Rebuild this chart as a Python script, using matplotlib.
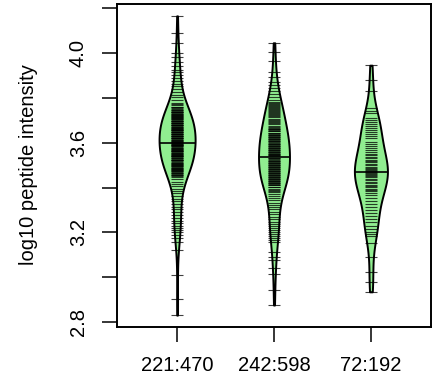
import numpy as np
import matplotlib
matplotlib.use("Agg")
import matplotlib.pyplot as plt

plt.rcParams["font.family"] = ["Liberation Sans", "DejaVu Sans"]

# group labels under each bean
GROUPS = ["221:470", "242:598", "72:192"]

# log10 peptide intensities
BEAN_1 = [4.166, 4.088, 4.043, 3.999, 3.983, 3.961, 3.943, 3.924, 3.915, 3.902,
          3.888, 3.875, 3.862, 3.853, 3.839, 3.826, 3.813, 3.804, 3.790, 3.777,
          3.772, 3.768, 3.761, 3.759, 3.755, 3.750, 3.746, 3.744, 3.741, 3.739,
          3.737, 3.735, 3.732, 3.730, 3.728, 3.726, 3.723, 3.721, 3.719, 3.717,
          3.715, 3.712, 3.710, 3.708, 3.704, 3.701, 3.699, 3.697, 3.695, 3.692,
          3.690, 3.688, 3.686, 3.683, 3.681, 3.679, 3.677, 3.674, 3.672, 3.670,
          3.668, 3.665, 3.663, 3.661, 3.659, 3.657, 3.655, 3.652, 3.650, 3.648,
          3.646, 3.643, 3.641, 3.639, 3.637, 3.634, 3.632, 3.630, 3.628, 3.625,
          3.623, 3.621, 3.619, 3.616, 3.614, 3.612, 3.610, 3.607, 3.605, 3.603,
          3.601, 3.597, 3.596, 3.594, 3.592, 3.590, 3.588, 3.585, 3.584, 3.581,
          3.578, 3.576, 3.574, 3.572, 3.569, 3.567, 3.565, 3.563, 3.561, 3.558,
          3.556, 3.554, 3.551, 3.549, 3.547, 3.545, 3.543, 3.541, 3.539, 3.536,
          3.532, 3.530, 3.527, 3.525, 3.523, 3.521, 3.518, 3.516, 3.511, 3.509,
          3.507, 3.505, 3.502, 3.500, 3.498, 3.496, 3.494, 3.489, 3.487, 3.485,
          3.483, 3.480, 3.478, 3.476, 3.474, 3.470, 3.467, 3.465, 3.461, 3.458,
          3.456, 3.452, 3.447, 3.438, 3.425, 3.416, 3.407, 3.393, 3.384, 3.376,
          3.362, 3.349, 3.340, 3.327, 3.313, 3.304, 3.291, 3.277, 3.264, 3.251,
          3.242, 3.228, 3.219, 3.211, 3.202, 3.188, 3.175, 3.158, 3.121, 3.010,
          2.903, 2.831]

BEAN_2 = [4.046, 4.006, 3.966, 3.917, 3.894, 3.871, 3.857, 3.844, 3.830, 3.817,
          3.804, 3.790, 3.781, 3.777, 3.772, 3.768, 3.764, 3.759, 3.755, 3.750,
          3.746, 3.741, 3.737, 3.732, 3.728, 3.723, 3.719, 3.714, 3.706, 3.701,
          3.697, 3.692, 3.688, 3.684, 3.675, 3.670, 3.665, 3.663, 3.661, 3.657,
          3.654, 3.652, 3.645, 3.643, 3.639, 3.636, 3.634, 3.630, 3.627, 3.625,
          3.621, 3.618, 3.616, 3.612, 3.610, 3.607, 3.603, 3.599, 3.596, 3.594,
          3.590, 3.587, 3.585, 3.581, 3.578, 3.576, 3.572, 3.569, 3.567, 3.563,
          3.560, 3.558, 3.554, 3.552, 3.549, 3.545, 3.545, 3.541, 3.532, 3.530,
          3.527, 3.523, 3.520, 3.518, 3.514, 3.511, 3.509, 3.505, 3.502, 3.500,
          3.496, 3.493, 3.491, 3.487, 3.485, 3.483, 3.478, 3.476, 3.474, 3.469,
          3.467, 3.465, 3.460, 3.458, 3.456, 3.451, 3.449, 3.447, 3.443, 3.440,
          3.438, 3.434, 3.431, 3.429, 3.425, 3.422, 3.420, 3.416, 3.413, 3.411,
          3.404, 3.402, 3.395, 3.389, 3.386, 3.380, 3.371, 3.362, 3.353, 3.344,
          3.331, 3.322, 3.313, 3.304, 3.291, 3.282, 3.269, 3.260, 3.246, 3.237,
          3.228, 3.219, 3.211, 3.202, 3.193, 3.184, 3.175, 3.166, 3.158, 3.114,
          3.091, 3.077, 3.040, 3.013, 2.945, 2.876]

BEAN_3 = [3.946, 3.880, 3.830, 3.755, 3.741, 3.732, 3.710, 3.701, 3.692, 3.683,
          3.674, 3.665, 3.657, 3.648, 3.639, 3.630, 3.621, 3.603, 3.594, 3.585,
          3.576, 3.567, 3.558, 3.550, 3.545, 3.536, 3.530, 3.523, 3.518, 3.514,
          3.505, 3.500, 3.491, 3.487, 3.482, 3.478, 3.474, 3.469, 3.465, 3.462,
          3.456, 3.452, 3.447, 3.440, 3.434, 3.425, 3.420, 3.411, 3.405, 3.402,
          3.393, 3.390, 3.384, 3.376, 3.367, 3.353, 3.340, 3.327, 3.313, 3.300,
          3.286, 3.273, 3.260, 3.246, 3.228, 3.215, 3.202, 3.193, 3.184, 3.153,
          3.091, 3.025, 2.980, 2.935]

Y_TICKS = [2.8, 3.0, 3.2, 3.4, 3.6, 3.8, 4.0, 4.2]
Y_TICK_LABELS = ["2.8", "", "3.2", "", "3.6", "", "4.0", ""]

BEAN_FILL = "#90EE90"
BW = 0.07           # kde bandwidth (log10 units)
MAX_HALF = 0.186    # widest half-bean, x units
LINE_HALF = 0.062   # half length of a beanline


def kde(values, grid, bw):
    """Plain gaussian kernel density."""
    v = np.asarray(values)[:, None]
    z = (grid[None, :] - v) / bw
    return np.exp(-0.5 * z ** 2).sum(axis=0) / (len(values) * bw * np.sqrt(2 * np.pi))


beans = [BEAN_1, BEAN_2, BEAN_3]
grids, dens = [], []
for vals in beans:
    g = np.linspace(min(vals), max(vals), 300)
    grids.append(g)
    dens.append(kde(vals, g, BW))
scale = MAX_HALF / max(d.max() for d in dens)

fig = plt.figure(figsize=(4.36, 3.85), dpi=100)
ax = fig.add_axes([117 / 436, 58 / 385, 314 / 436, 323 / 385])

for i, vals in enumerate(beans):
    pos = i + 1
    half = dens[i] * scale
    ax.fill_betweenx(grids[i], pos - half, pos + half, facecolor=BEAN_FILL,
                     edgecolor="black", linewidth=1.4, zorder=2)
    ax.hlines(vals, pos - LINE_HALF, pos + LINE_HALF, colors="black",
              linewidth=0.8, alpha=0.75, zorder=3)
    med = np.median(vals)
    w_med = kde(vals, np.array([med]), BW)[0] * scale
    ax.hlines(med, pos - w_med, pos + w_med, colors="black", linewidth=1.2, zorder=4)

ax.set_xlim(0.38, 3.62)
ax.set_ylim(2.778, 4.219)
ax.set_xticks([1, 2, 3])
ax.set_xticklabels(GROUPS, fontsize=14.5)
ax.set_yticks(Y_TICKS)
ax.set_yticklabels(Y_TICK_LABELS, fontsize=14.5, rotation=90, va="center")
ax.tick_params(axis="both", direction="out", length=11, width=1.1)
ax.tick_params(axis="x", pad=10)
ax.tick_params(axis="y", pad=10)
for sp in ax.spines.values():
    sp.set_linewidth(1.4)

fig.text(29 / 436, 1 - 165 / 385, "log10 peptide intensity", rotation=90,
         ha="center", va="center", fontsize=14.5)

fig.savefig("out.png", dpi=100)
